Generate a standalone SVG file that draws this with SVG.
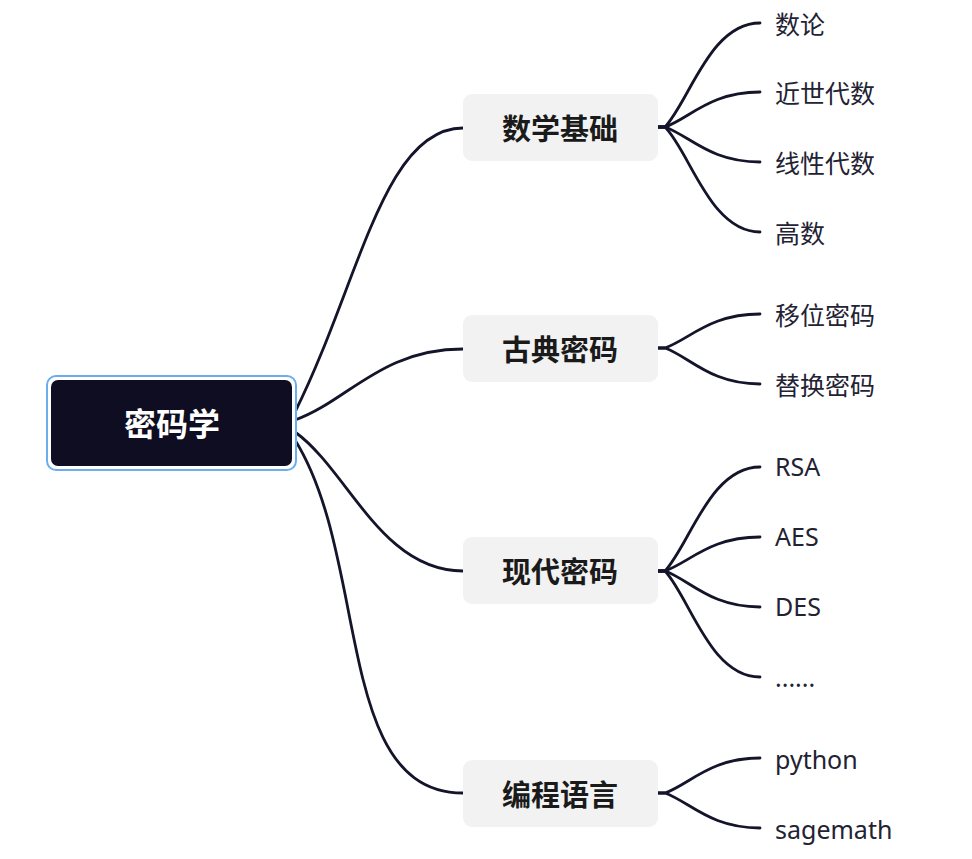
<svg xmlns="http://www.w3.org/2000/svg" width="972" height="859" viewBox="0 0 972 859">
<style>
.bg{fill:#ffffff}
.conn path{fill:none;stroke:#14142b;stroke-width:2.8;stroke-linecap:round}
.branch rect{fill:#f2f2f2}
.btxt{font-family:"Noto Sans CJK SC","Noto Sans",sans-serif;font-weight:700;font-size:29px;fill:#1a1a1a;text-anchor:middle}
.ltxt{font-family:"Noto Sans","Noto Sans CJK SC",sans-serif;font-size:25px;fill:#222233}
.rtxt{font-family:"Noto Sans CJK SC","Noto Sans",sans-serif;font-weight:700;font-size:32px;fill:#ffffff;text-anchor:middle}
</style>
<rect class="bg" x="0" y="0" width="972" height="859"/>
<g id="connectors" class="conn">
<path d="M295,412 C359,284 383,128 463,128"/>
<path d="M295,420 C348,401 381,349 463,349"/>
<path d="M295,432 C348,470 381,571 463,571"/>
<path d="M295,440 C370,560 334,793 463,793"/>
<path d="M658,127 L665,127 C690,100 710,23 760,23"/>
<path d="M658,127 L665,127 C690,118 710,92 760,92"/>
<path d="M658,127 L665,127 C690,136 710,162 760,162"/>
<path d="M658,127 L665,127 C690,152 710,232 760,232"/>
<path d="M658,348 L665,348 C690,339 710,314 760,314"/>
<path d="M658,348 L665,348 C690,357 710,384 760,384"/>
<path d="M658,571 L665,571 C690,544 710,467 760,467"/>
<path d="M658,571 L665,571 C690,562 710,537 760,537"/>
<path d="M658,571 L665,571 C690,580 710,607 760,607"/>
<path d="M658,571 L665,571 C690,598 710,677 760,677"/>
<path d="M658,793 L665,793 C690,784 710,758 760,758"/>
<path d="M658,793 L665,793 C690,802 710,828 760,828"/>
</g>
<g id="root">
<rect x="47" y="376" width="249" height="94" rx="9" fill="#ffffff" stroke="#6aaef0" stroke-width="2"/>
<rect x="51" y="380" width="241" height="86" rx="7" fill="#0f0d21"/>
<text class="rtxt" x="172" y="436">密码学</text>
</g>
<g id="b1" class="branch"><rect x="463" y="94" width="195" height="67" rx="9"/><text class="btxt" x="560" y="140">数学基础</text></g>
<g id="b2" class="branch"><rect x="463" y="315" width="195" height="67" rx="9"/><text class="btxt" x="560" y="361">古典密码</text></g>
<g id="b3" class="branch"><rect x="463" y="537" width="195" height="67" rx="9"/><text class="btxt" x="560" y="583">现代密码</text></g>
<g id="b4" class="branch"><rect x="463" y="760" width="195" height="67" rx="9"/><text class="btxt" x="560" y="806">编程语言</text></g>
<g id="l1"><text class="ltxt" x="775" y="34">数论</text></g>
<g id="l2"><text class="ltxt" x="775" y="103">近世代数</text></g>
<g id="l3"><text class="ltxt" x="775" y="173">线性代数</text></g>
<g id="l4"><text class="ltxt" x="775" y="243">高数</text></g>
<g id="l5"><text class="ltxt" x="775" y="325">移位密码</text></g>
<g id="l6"><text class="ltxt" x="775" y="395">替换密码</text></g>
<g id="l7"><text class="ltxt" x="775" y="476">RSA</text></g>
<g id="l8"><text class="ltxt" x="775" y="546">AES</text></g>
<g id="l9"><text class="ltxt" x="775" y="616">DES</text></g>
<g id="l10"><text class="ltxt" x="775" y="687" font-size="23">......</text></g>
<g id="l11"><text class="ltxt" x="775" y="769">python</text></g>
<g id="l12"><text class="ltxt" x="775" y="839">sagemath</text></g>
</svg>
